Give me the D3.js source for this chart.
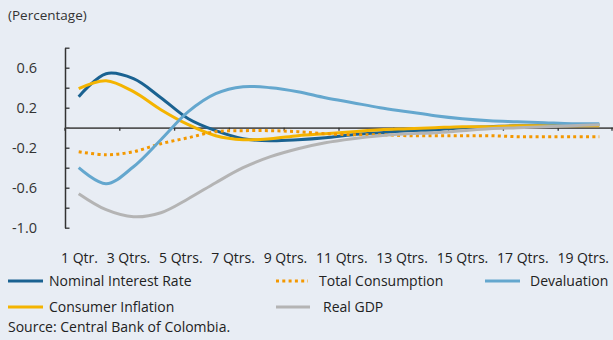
<!DOCTYPE html>
<html>
<head>
<meta charset="utf-8">
<script src="https://cdn.jsdelivr.net/npm/d3@7/dist/d3.min.js"></script>
<style>
  html, body { margin: 0; padding: 0; background: #e8edf4; }
  svg { display: block; font-family: "Open Sans", sans-serif; }
</style>
</head>
<body>
<svg id="chart" width="613" height="340"></svg>
<script>
// ---- data ----
const quarters = d3.range(1, 21).map(q => q === 1 ? "1 Qtr." : q + " Qtrs.");
const tickLabels = ["1 Qtr.", "3 Qtrs.", "5 Qtrs.", "7 Qtrs.", "9 Qtrs.", "11 Qtrs.", "13 Qtrs.", "15 Qtrs.", "17 Qtrs.", "19 Qtrs."];
const yTicks = [-1.0, -0.8, -0.6, -0.4, -0.2, 0.0, 0.2, 0.4, 0.6, 0.8];
const yLabelled = [-1.0, -0.6, -0.2, 0.2, 0.6];

const nominalRate   = [0.31, 0.54, 0.49, 0.30, 0.09, -0.03, -0.11, -0.13, -0.12, -0.10, -0.07, -0.05, -0.03, -0.02, 0.00, 0.01, 0.02, 0.02, 0.03, 0.03];
const inflation     = [0.39, 0.47, 0.36, 0.18, 0.03, -0.08, -0.12, -0.11, -0.08, -0.06, -0.04, -0.02, -0.01, 0.00, 0.01, 0.01, 0.02, 0.02, 0.02, 0.02];
const consumption   = [-0.24, -0.27, -0.24, -0.16, -0.10, -0.04, -0.03, -0.03, -0.04, -0.06, -0.07, -0.07, -0.08, -0.08, -0.08, -0.08, -0.09, -0.09, -0.09, -0.09];
const devaluation   = [-0.40, -0.56, -0.39, -0.12, 0.16, 0.34, 0.41, 0.40, 0.36, 0.30, 0.25, 0.20, 0.16, 0.12, 0.09, 0.07, 0.06, 0.05, 0.04, 0.04];
const realGDP       = [-0.66, -0.82, -0.89, -0.85, -0.71, -0.55, -0.40, -0.29, -0.21, -0.15, -0.11, -0.08, -0.06, -0.05, -0.03, -0.01, 0.00, 0.01, 0.02, 0.03];

const seriesNames = ["Nominal Interest Rate", "Total Consumption", "Devaluation", "Consumer Inflation", "Real GDP"];

// ---- styles ----
const styles = {
  "Nominal Interest Rate": { color: "#1a6291", dash: null },
  "Total Consumption":     { color: "#f39800", dash: "3,3.3" },
  "Devaluation":           { color: "#64a7ce", dash: null },
  "Consumer Inflation":    { color: "#f4b400", dash: null },
  "Real GDP":              { color: "#b4b4b4", dash: null }
};
const seriesData = {
  "Nominal Interest Rate": nominalRate,
  "Total Consumption": consumption,
  "Devaluation": devaluation,
  "Consumer Inflation": inflation,
  "Real GDP": realGDP
};
const drawOrder = ["Nominal Interest Rate", "Consumer Inflation", "Total Consumption", "Devaluation", "Real GDP"];

const svg = d3.select("#chart");
svg.append("rect").attr("width", 613).attr("height", 340).attr("fill", "#e8edf4");

const plotLeft = 65, plotRight = 613;
const x = d3.scaleBand().domain(quarters).range([plotLeft, plotRight]).padding(0);
const y = d3.scaleLinear().domain([-1.0, 0.8]).range([227.7, 47.7]);
const cx = q => x(q) + x.bandwidth() / 2;

// title
svg.append("text").attr("x", 8).attr("y", 20).attr("font-size", 13.5).attr("fill", "#333")
  .text("(Percentage)");

// y axis
const yAxis = d3.axisLeft(y).tickValues(yTicks)
  .tickSizeInner(-4.5).tickSizeOuter(0).tickPadding(28)
  .tickFormat(v => yLabelled.some(l => Math.abs(l - v) < 1e-9) ? v.toFixed(1) : "");
const gy = svg.append("g").attr("transform", `translate(${plotLeft},0)`).call(yAxis);
gy.select(".domain").attr("stroke", "#333").attr("stroke-width", 1.5);
gy.selectAll(".tick line").attr("stroke", "#333").attr("stroke-width", 1.3);
gy.selectAll(".tick text").attr("font-size", 14.5).attr("fill", "#333")
  .attr("font-family", "'Open Sans', sans-serif");

// x axis at zero
const tickBounds = quarters.filter((q, i) => i % 2 === 0);
const xAxis = d3.axisBottom(x).tickValues(tickBounds).tickSizeInner(3).tickSizeOuter(0).tickFormat("");
const gx = svg.append("g").attr("transform", `translate(0,${y(0)})`).call(xAxis);
gx.selectAll(".tick").attr("transform", d => `translate(${x(d)},0)`);
gx.append("line").attr("x1", plotRight - 1).attr("x2", plotRight - 1).attr("y1", 0).attr("y2", 3)
  .attr("stroke", "#333").attr("stroke-width", 1.3);
gx.select(".domain").attr("stroke", "#555").attr("stroke-width", 1.8);
gx.selectAll(".tick line").attr("stroke", "#333").attr("stroke-width", 1.3);

// category labels (packed as a text line under the plot)
const labelY = 263;
const labG = svg.append("g");
const labs = labG.selectAll("text").data(tickLabels).join("text")
  .attr("y", labelY).attr("font-size", 14).attr("fill", "#222").text(d => d);
const widths = labs.nodes().map(n => n.getComputedTextLength());
const startX = 61, endX = 609;
const gap = (endX - startX - d3.sum(widths)) / (tickLabels.length - 1);
let cursor = startX;
labs.each(function(d, i) {
  d3.select(this).attr("x", cursor);
  cursor += widths[i] + gap;
});

// lines
const line = d3.line().x((d, i) => cx(quarters[i])).y(d => y(d)).curve(d3.curveCatmullRom.alpha(0.5));
drawOrder.forEach(name => {
  const st = styles[name];
  svg.append("path").datum(seriesData[name])
    .attr("fill", "none").attr("stroke", st.color).attr("stroke-width", 3)
    .attr("stroke-linejoin", "round")
    .attr("stroke-dasharray", st.dash).attr("d", line);
});

// legend
const legendItems = [
  { name: "Nominal Interest Rate", x1: 8, x2: 43, tx: 49, y: 281 },
  { name: "Total Consumption",     x1: 276, x2: 308, tx: 319, y: 281 },
  { name: "Devaluation",           x1: 485, x2: 520, tx: 530, y: 281 },
  { name: "Consumer Inflation",    x1: 8, x2: 43, tx: 49, y: 307 },
  { name: "Real GDP",              x1: 276, x2: 310, tx: 323, y: 307 }
];
const lg = svg.append("g");
legendItems.forEach(it => {
  const st = styles[it.name];
  lg.append("line").attr("x1", it.x1).attr("x2", it.x2).attr("y1", it.y).attr("y2", it.y)
    .attr("stroke", st.color).attr("stroke-width", 3).attr("stroke-dasharray", st.dash);
  lg.append("text").attr("x", it.tx).attr("y", it.y + 5).attr("font-size", 14).attr("fill", "#222")
    .text(it.name);
});

svg.append("text").attr("x", 8).attr("y", 332).attr("font-size", 14).attr("fill", "#222")
  .text("Source: Central Bank of Colombia.");
</script>
</body>
</html>
